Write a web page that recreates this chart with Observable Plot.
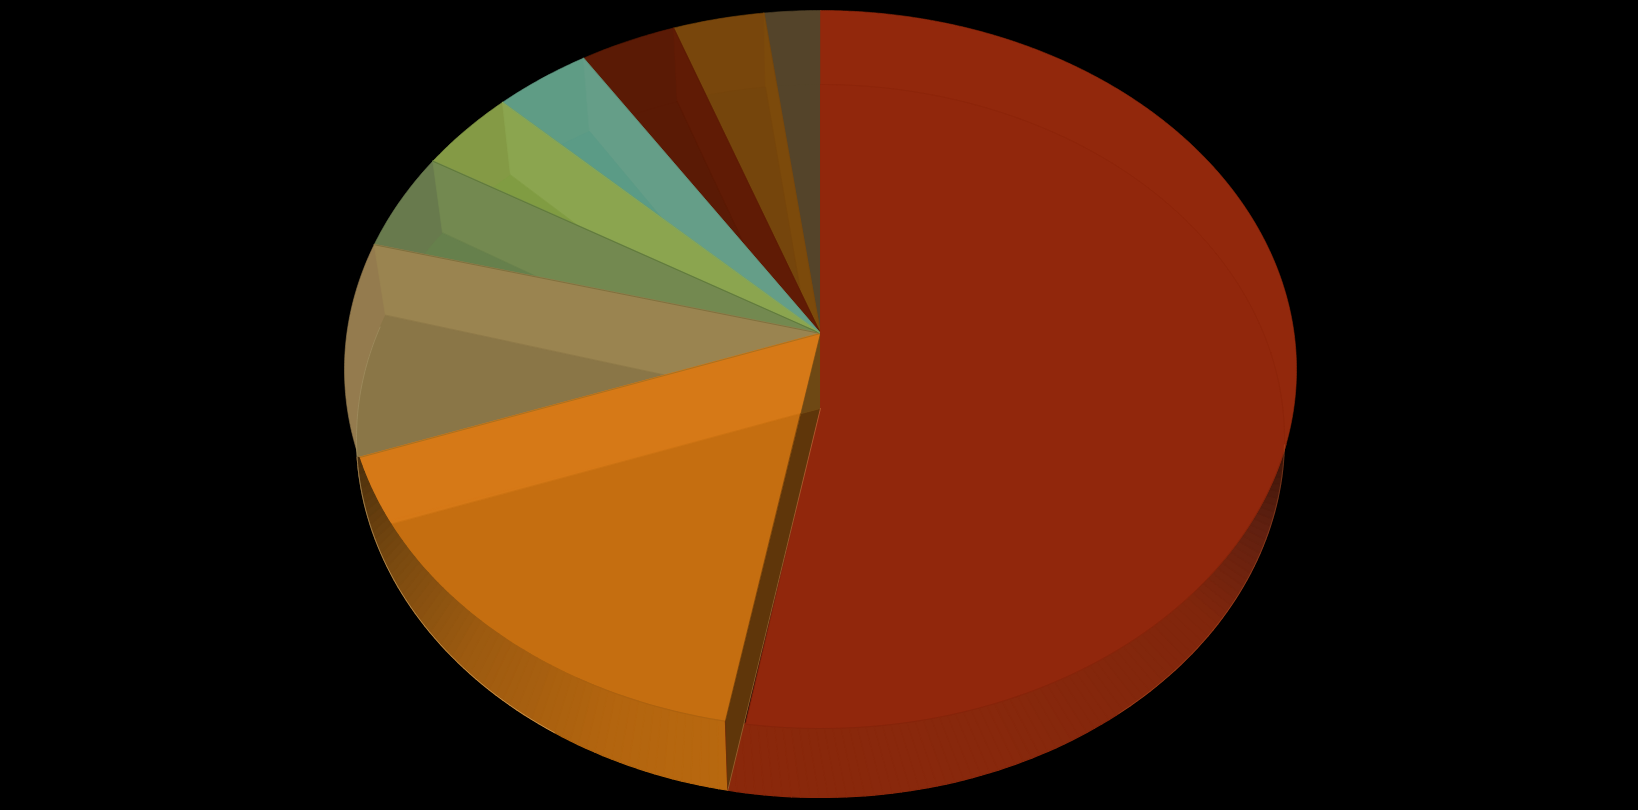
<!DOCTYPE html>
<html>
<head>
<meta charset="utf-8">
<style>html,body{margin:0;padding:0;background:#000;overflow:hidden}svg{display:block}</style>
<script src="https://cdn.jsdelivr.net/npm/d3@7"></script>
<script src="https://cdn.jsdelivr.net/npm/@observablehq/plot@0.6"></script>
</head>
<body>
<div id="chart"></div>
<script>
// Slices, clockwise from twelve o'clock
const categories = ["A","B","C","D","E","F","G","H","I"];
const shares     = [53.2,17.85,9.6,4.2,3.5,3.35,3.3,3.1,1.9];
const rimColors    = ["#92280c","#d67917","#947b4e","#687a4d","#849a45","#5f9c85","#5a1a05","#78460c","#54442a"];
const facetColors  = ["#92280c","#d67917","#9a8450","#738950","#8ba54f","#659e88","#601b05","#7c4a0b","#56462a"];
const flatColors   = ["#91270c","#c56e10","#8a7647","#66804c","#809c42","#5b9b86","#5a1a05","#75450c","#54442a"];
const edgeColors   = [null,"#a8701e","#7e6f3c","#5f7a38","#7fa868",null,null,null];

// Gradient stops of the side wall (angle on the rim → colour)
const orangeWallAngles = [191.5,205,225,240,255.7];
const orangeWallColors = ["#b8680f","#b3650f","#9c5a10","#7a4a10","#4a2e0c"];
const redWallAngles = [191.5,160,130,115,103];
const redWallColors = ["#8a280b","#88280c","#80260c","#602010","#381408"];

// Projection of the tilted disc
const cx = 820;
const topE = {cy:369,rx:476,ry:359,apex:333};
const bevelE = {cy:438,rx:464,ry:354,apex:408};
const bottomE = {cy:438,rx:464,ry:359};
const A1 = [cx,topE.apex], A2 = [cx,bevelE.apex];
const rad = d => d*Math.PI/180;
const pt = (e,t) => [cx+e.rx*Math.sin(rad(t)), e.cy-e.ry*Math.cos(rad(t))];
const arc = (e,a,b,step=0.5) => {
  const n = Math.max(1,Math.ceil(Math.abs(b-a)/step));
  return d3.range(n+1).map(i => pt(e,a+(b-a)*i/n));
};
const cross = (p1,p2,p3,p4) => {
  const d=(p1[0]-p2[0])*(p3[1]-p4[1])-(p1[1]-p2[1])*(p3[0]-p4[0]);
  const u=p1[0]*p2[1]-p1[1]*p2[0], v=p3[0]*p4[1]-p3[1]*p4[0];
  return [(u*(p3[0]-p4[0])-(p1[0]-p2[0])*v)/d,(u*(p3[1]-p4[1])-(p1[1]-p2[1])*v)/d];
};
const poly = (pts,fill,stroke=fill,sw=0.6) => Plot.line(pts,{x:d=>d[0],y:d=>d[1],fill,stroke,strokeWidth:sw,curve:"linear-closed"});
const stroked = (pts,stroke,sw=0.8,op=1) => Plot.line(pts,{x:d=>d[0],y:d=>d[1],stroke,strokeWidth:sw,strokeOpacity:op});

// Cumulative angles
const ends = Array.from(d3.cumsum(shares)).map(v=>v*3.6);
const starts = [0,...ends.slice(0,-1)];
const marks = [];
const bevelTilt = i => i===1 ? 0.7 : 0;

// Back slices, last to first, then the orange one
for (let i=categories.length-1;i>=1;i--){
  const a=starts[i], b=ends[i];
  marks.push(poly([A1,...arc(topE,a,b)],rimColors[i]));
  marks.push(poly([pt(topE,b),pt(bevelE,b),A2,A1],facetColors[i]));
  marks.push(poly([A2,...arc(bevelE,a,b-bevelTilt(i))],flatColors[i]));
}
// Slice edges
for (let i=1;i<categories.length-1;i++){
  if(edgeColors[i]) marks.push(stroked([pt(topE,ends[i]),A1],edgeColors[i],0.9));
}
// Faint rim on the tan slice
marks.push(stroked(arc(bevelE,ends[2]-2,starts[2]+8),"#a8966a",0.8,0.7));

// Side wall strips
const tO = ends[1], tS = ends[0];
const orangeWall = d3.scaleLinear(orangeWallAngles,orangeWallColors);
const redWall = d3.scaleLinear(redWallAngles,redWallColors);
const stepT = 1;
// orange part: rim angle maps on to the bottom outline
const mapO = d3.scaleLinear([tS,tO],[tS,267]);
for (let t=tS;t<tO-1e-6;t+=stepT){
  const u=Math.min(t+stepT,tO);
  marks.push(poly([pt(topE,t),pt(topE,u),pt(bottomE,mapO(u)),pt(bottomE,mapO(t))],orangeWall(t+stepT/2),undefined,1.2));
}
const mapR = d3.scaleLinear([tS,103],[tS,91]);
for (let t=tS;t>103+1e-6;t-=stepT){
  const u=Math.max(t-stepT,103);
  marks.push(poly([pt(topE,t),pt(topE,u),pt(bottomE,mapR(u)),pt(bottomE,mapR(t))],redWall(t-stepT/2),undefined,1.2));
}
// Front rim line of the orange slice
marks.push(stroked(arc(topE,tS,tO-45),"#a85f10",0.9,0.7));

// Cut face between orange and red
const Cb = pt(bottomE,tS), Ct = pt(topE,tS);
const split = cross(A1,Ct,A2,pt(bevelE,tO-bevelTilt(1)));
marks.push(poly([Ct,Cb,A2,split],"#5f360a"));
marks.push(poly([A1,split,A2],"#6e4814"));

// Red slice
const lineX = y => A2[0]+(Cb[0]-A2[0])*(y-A2[1])/(Cb[1]-A2[1]);
const redArc = arc(topE,0,tS,0.25).filter(p=>p[1]<topE.cy||p[0]>lineX(p[1]));
marks.push(poly([A2,...redArc],rimColors[0]));
const flatArc = [...arc(bevelE,0,91),...arc(topE,102,tS,0.25).filter(p=>p[1]<topE.cy||p[0]>lineX(p[1]))];
marks.push(poly([A2,...flatArc],flatColors[0]));
marks.push(stroked(arc(bevelE,0,91),"#84240a",0.8,0.4));
marks.push(stroked(arc(topE,102,tS,0.5).filter(p=>p[0]>lineX(p[1])),"#7b220a",0.9,0.55));

// Fine light outline
marks.push(stroked(arc(bottomE,267,215),"#e8c98a",0.7,0.65));
marks.push(stroked(arc(bottomE,91,140),"#c8703a",0.6,0.5));
marks.push(stroked([Cb,A2],"#e0a060",0.7,0.55));

const chart = Plot.plot({
  width:1638,height:810,
  marginTop:0,marginRight:0,marginBottom:0,marginLeft:0,
  x:{domain:[0,1638],axis:null},
  y:{domain:[810,0],axis:null},
  style:{background:"#000"},
  marks
});
document.getElementById("chart").append(chart);
</script>
</body>
</html>
